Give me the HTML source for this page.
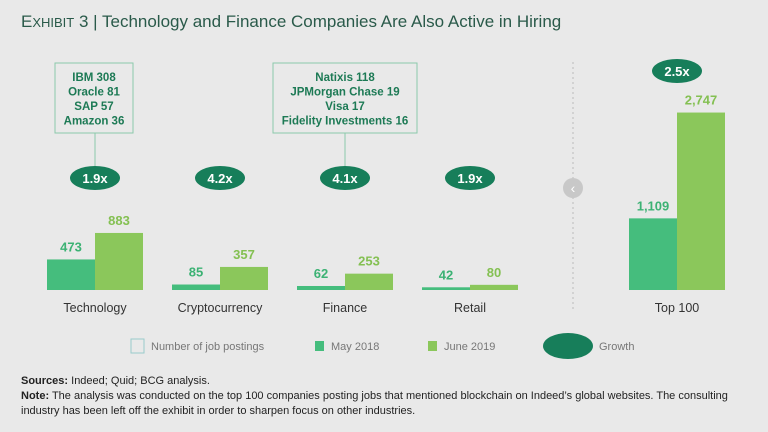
<!DOCTYPE html>
<html><head><meta charset="utf-8"><style>
body{margin:0;width:768px;height:432px;background:#e9e9e9;font-family:"Liberation Sans",sans-serif;overflow:hidden;position:relative}
.t{position:absolute;white-space:nowrap}
</style></head><body>
<div class="t" style="left:21px;top:12px;font-size:17px;color:#2a5a4a">E<span style="font-size:13px">XHIBIT</span> 3 | Technology and Finance Companies Are Also Active in Hiring</div>
<svg id="c" width="768" height="432" style="position:absolute;left:0;top:0"></svg>
<div class="t" style="left:21px;top:374px;font-size:11px;color:#222;line-height:15px"><b>Sources:</b> Indeed; Quid; BCG analysis.<br><b>Note:</b> The analysis was conducted on the top 100 companies posting jobs that mentioned blockchain on Indeed’s global websites. The consulting<br>industry has been left off the exhibit in order to sharpen focus on other industries.</div>
<script>
const categories=["Technology","Cryptocurrency","Finance","Retail","Top 100"];
const may2018=[473,85,62,42,1109];
const june2019=[883,357,253,80,2747];
const growth=["1.9x","4.2x","4.1x","1.9x","2.5x"];
const valueLabels=[["473","883"],["85","357"],["62","253"],["42","80"],["1,109","2,747"]];
const centers=[95,220,345,470,677];
const base=290,k=0.0646,bw=48;
const y=v=>base-v*k;
const svg=document.getElementById('c');const NS="http://www.w3.org/2000/svg";
function mk(t,a,txt){const e=document.createElementNS(NS,t);for(const x in a)e.setAttribute(x,a[x]);if(txt!=null)e.textContent=txt;svg.appendChild(e);return e;}
// divider
let d=mk('line',{x1:573,y1:62,x2:573,y2:312,stroke:'#bbb','stroke-dasharray':'2,3'});


let ci=mk('circle',{cx:573,cy:188,r:10,fill:'#c8c8c8'});


let ar=mk('text',{x:573,y:193,'text-anchor':'middle','font-size':14,fill:'#fff','font-family':'Liberation Sans'},'‹');


// callout boxes
function box(x,w,lines,cx,name){let r=mk('rect',{x:x,y:63,width:w,height:70,fill:'none',stroke:'#8cc9ab'});


mk('line',{x1:cx,y1:133,x2:cx,y2:166,stroke:'#8cc9ab'});
lines.forEach((l,i)=>{let t=mk('text',{x:x+w/2,y:81+i*14.5,'text-anchor':'middle','font-size':11.5,'font-weight':'bold',fill:'#1d7a55','font-family':'Liberation Sans'},l);

});}
box(55,78,["IBM 308","Oracle 81","SAP 57","Amazon 36"],95,'technology-callout');
box(273,144,["Natixis 118","JPMorgan Chase 19","Visa 17","Fidelity Investments 16"],345,'finance-callout');
categories.forEach((c,i)=>{const cx=centers[i];
let b1=mk('rect',{x:cx-bw,y:y(may2018[i]),width:bw,height:may2018[i]*k,fill:'#45bd7d'});


let b2=mk('rect',{x:cx,y:y(june2019[i]),width:bw,height:june2019[i]*k,fill:'#8bc75b'});


let l1=mk('text',{x:cx-bw/2,y:y(may2018[i])-8,'text-anchor':'middle','font-size':13,'font-weight':'bold',fill:'#3cb274','font-family':'Liberation Sans'},valueLabels[i][0]);


let l2=mk('text',{x:cx+bw/2,y:y(june2019[i])-8,'text-anchor':'middle','font-size':13,'font-weight':'bold',fill:'#84c052','font-family':'Liberation Sans'},valueLabels[i][1]);


let cl=mk('text',{x:cx,y:312,'text-anchor':'middle','font-size':12.5,fill:'#333','font-family':'Liberation Sans'},c);


const gy=i==4?71:178;
let e=mk('ellipse',{cx:cx,cy:gy,rx:25,ry:12,fill:'#177e5a'});


let gt=mk('text',{x:cx,y:gy+5,'text-anchor':'middle','font-size':13,'font-weight':'bold',fill:'#fff','font-family':'Liberation Sans'},growth[i]);


});
// legend
let lg1=mk('rect',{x:131,y:339,width:13,height:14,fill:'none',stroke:'#9cc'});


mk('text',{x:151,y:350,'font-size':11,fill:'#777','font-family':'Liberation Sans'},'Number of job postings');
let lg2=mk('rect',{x:315,y:341,width:9,height:10,fill:'#45bd7d'});


mk('text',{x:331,y:350,'font-size':11,fill:'#777','font-family':'Liberation Sans'},'May 2018');
let lg3=mk('rect',{x:428,y:341,width:9,height:10,fill:'#8bc75b'});


mk('text',{x:444,y:350,'font-size':11,fill:'#777','font-family':'Liberation Sans'},'June 2019');
let lg4=mk('ellipse',{cx:568,cy:346,rx:25,ry:13,fill:'#177e5a'});


mk('text',{x:599,y:350,'font-size':11,fill:'#777','font-family':'Liberation Sans'},'Growth');
</script>
</body></html>
